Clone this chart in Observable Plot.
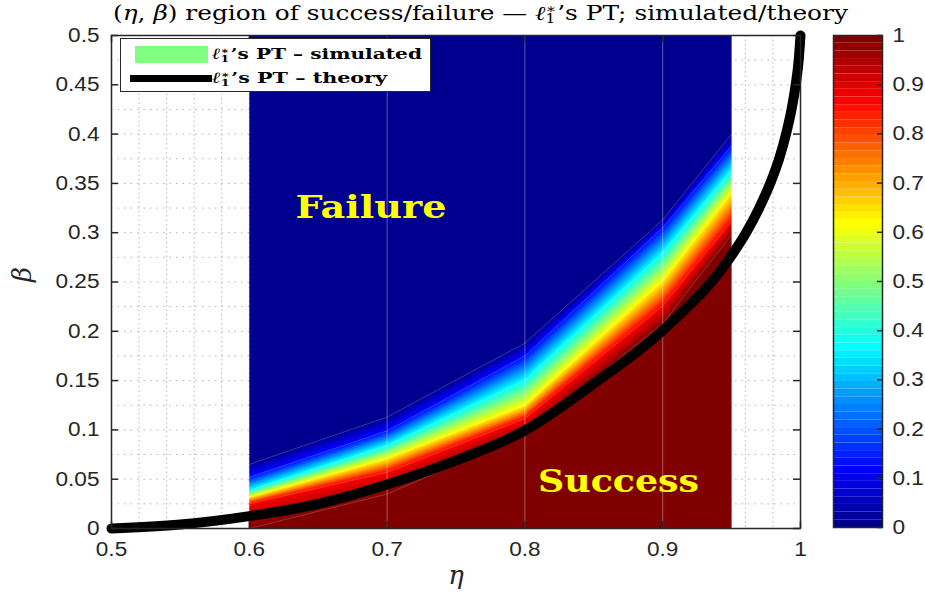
<!DOCTYPE html>
<html>
<head>
<meta charset="utf-8">
<script src="https://cdn.jsdelivr.net/npm/d3@7"></script>
<script src="https://cdn.jsdelivr.net/npm/@observablehq/plot@0.6"></script>
<style>
  html, body { margin: 0; padding: 0; background: #fff; }
  #wrap { position: relative; width: 925px; height: 592px; overflow: hidden; }
  #main, #cbar { position: absolute; top: 0; }
  #main { left: 0; }
  #cbar { left: 820px; }
  #title { position: absolute; left: 113px; top: 0px; font-family: "DejaVu Serif", serif; font-size: 20px; line-height: 26px; white-space: nowrap; color: #000; transform-origin: left center; }
  #legend { position: absolute; left: 120px; top: 38px; width: 311px; height: 54px; background: #fff; border: 1.5px solid #262626; box-sizing: border-box; }
  .lg-sw { position: absolute; }
  .lg-tx { position: absolute; left: 91px; font-family: "DejaVu Serif", serif; font-weight: bold; font-size: 15.5px; line-height: 20px; white-space: nowrap; transform-origin: left center; }
  .ss { display: inline-block; vertical-align: -0.28em; font-size: 0.62em; line-height: 0.85; text-align: left; margin-right: 1px; }
  .ss span { display: block; }
  i { font-style: italic; }
</style>
</head>
<body>
<div id="wrap">
  <div id="main"></div>
  <div id="cbar"></div>
  <div id="title">(<i>η</i>, <i>β</i>) region of success/failure — <i>ℓ</i><span class="ss"><span>∗</span><span>1</span></span>’s PT; simulated/theory</div>
  <div id="legend">
    <div class="lg-sw" style="left:14px; top:7px; width:73px; height:17px; background:#80ff80;"></div>
    <div class="lg-sw" style="left:9px; top:36px; width:82px; height:7px; background:#000;"></div>
    <div class="lg-tx" id="lt1" style="top:5px;"><i>ℓ</i><span class="ss"><span>∗</span><span>1</span></span>’s PT – simulated</div>
    <div class="lg-tx" id="lt2" style="top:29px;"><i>ℓ</i><span class="ss"><span>∗</span><span>1</span></span>’s PT – theory</div>
  </div>
</div>
<script>
// ---- data: simulated success probability band (β where success prob reaches each level) ----
const etaSim = [0.6, 0.7, 0.8, 0.9, 0.95];
const successLevels = [0, 0.125, 0.375, 0.625, 0.875, 1];
const betaAtP000 = [0.065, 0.113, 0.188, 0.313, 0.400];
const betaAtP125 = [0.052, 0.099, 0.175, 0.305, 0.388];
const betaAtP375 = [0.0385, 0.084, 0.150, 0.279, 0.363];
const betaAtP625 = [0.0318, 0.071, 0.125, 0.2515, 0.341];
const betaAtP875 = [0.025, 0.057, 0.1115, 0.226, 0.312];
const betaAtP100 = [0.0, 0.035, 0.095, 0.208, 0.298];

// ---- data: theoretical phase transition curve ----
const etaTheory  = [0.5, 0.55, 0.6, 0.65, 0.7, 0.75, 0.8, 0.85, 0.9, 0.95, 0.9605, 0.970, 0.978, 0.9845, 0.9895, 0.9935, 0.9965, 0.9987, 1.0];
const betaTheory = [0, 0.004, 0.0125, 0.025, 0.0446, 0.069, 0.0995, 0.147, 0.201, 0.277, 0.300, 0.325, 0.350, 0.375, 0.400, 0.425, 0.450, 0.475, 0.5];

// ---- annotations ----
const regionNames = ["Failure", "Success"];
const regionEta = [0.6883, 0.8679];
const regionBeta = [0.3154, 0.0375];

// ---- ticks ----
const xTicks = [0.5, 0.6, 0.7, 0.8, 0.9, 1];
const yTicks = [0, 0.05, 0.1, 0.15, 0.2, 0.25, 0.3, 0.35, 0.4, 0.45, 0.5];
const cbTicks = [0, 0.1, 0.2, 0.3, 0.4, 0.5, 0.6, 0.7, 0.8, 0.9, 1];

// ---- jet colormap stops ----
const jetStops = [0, 0.111, 0.365, 0.619, 0.873, 1];
const jetColors = ["#00008f", "#0000ff", "#00ffff", "#ffff00", "#ff0000", "#800000"];

const levelBetas = [betaAtP000, betaAtP125, betaAtP375, betaAtP625, betaAtP875, betaAtP100];

function successProb(eta, beta) {
  let i = d3.bisectRight(etaSim, eta) - 1;
  i = Math.max(0, Math.min(etaSim.length - 2, i));
  const t = (eta - etaSim[i]) / (etaSim[i + 1] - etaSim[i]);
  const b = levelBetas.map(a => a[i] + t * (a[i + 1] - a[i]));
  if (beta >= b[0]) return successLevels[0];
  for (let k = 0; k < b.length - 1; k++) {
    if (beta >= b[k + 1]) {
      const u = (b[k] - beta) / ((b[k] - b[k + 1]) || 1e-9);
      return successLevels[k] + u * (successLevels[k + 1] - successLevels[k]);
    }
  }
  return successLevels[successLevels.length - 1];
}

const fmt = d => String(+d.toFixed(3));
const colorScale = {type: "linear", domain: jetStops, range: jetColors, interpolate: "rgb", clamp: true};

const W = 820, H = 592, mL = 111, mR = 20, mT = 35, mB = 64;
const iW = W - mL - mR, iH = H - mT - mB;
const axisColor = "#262626";

const gridEta = d3.range(0.5, 1.0001, 0.02);
const gridBeta = d3.range(0, 0.5001, 0.025);
const theory = etaTheory.map((e, j) => ({eta: e, beta: betaTheory[j]}));
const levelLines = levelBetas.map(arr => etaSim.map((e, j) => ({eta: e, beta: arr[j]})));
const labels = regionNames.map((n, j) => ({name: n, eta: regionEta[j], beta: regionBeta[j]}));

const main = Plot.plot({
  width: W, height: H,
  marginLeft: mL, marginRight: mR, marginTop: mT, marginBottom: mB,
  style: {fontFamily: "'Liberation Sans', Arial, sans-serif", fontSize: "20px", color: axisColor, overflow: "visible", background: "transparent"},
  x: {domain: [0.5, 1]},
  y: {domain: [0, 0.5]},
  color: colorScale,
  marks: [
    Plot.ruleX(gridEta, {stroke: "#b5b5b5", strokeDasharray: "1.5,3", strokeWidth: 1}),
    Plot.ruleY(gridBeta, {stroke: "#b5b5b5", strokeDasharray: "1.5,5", strokeWidth: 1}),
    Plot.raster({x1: d3.min(etaSim), x2: d3.max(etaSim), y1: 0, y2: 0.5, fill: successProb, pixelSize: 1}),
    Plot.ruleX(etaSim.slice(1, -1), {stroke: "white", strokeOpacity: 0.35, strokeWidth: 1}),
    ...levelLines.map(ll => Plot.line(ll, {x: "eta", y: "beta", stroke: "white", strokeOpacity: 0.3, strokeWidth: 0.7})),
    Plot.line(theory, {x: "eta", y: "beta", stroke: "black", strokeWidth: 10, curve: "monotone-x"}),
    Plot.text(labels, {x: "eta", y: "beta", text: "name", fill: "#ffff00", fontFamily: "'DejaVu Serif', serif", fontWeight: "bold", fontSize: 32, textAnchor: "middle", lineAnchor: "bottom"}),
    Plot.frame({stroke: axisColor, strokeWidth: 1.5}),
    Plot.tickX(xTicks, {x: d => d, stroke: axisColor, strokeWidth: 1.5, insetTop: iH - 7}),
    Plot.tickX(xTicks, {x: d => d, stroke: axisColor, strokeWidth: 1.5, insetBottom: iH - 7}),
    Plot.tickY(yTicks, {y: d => d, stroke: axisColor, strokeWidth: 1.5, insetRight: iW - 7}),
    Plot.tickY(yTicks, {y: d => d, stroke: axisColor, strokeWidth: 1.5, insetLeft: iW - 7}),
    Plot.axisX({ticks: xTicks, tickSize: 0, tickPadding: 13, tickFormat: fmt, label: null, fontSize: 20}),
    Plot.axisY({ticks: yTicks, tickSize: 0, tickPadding: 12, tickFormat: fmt, label: null, fontSize: 20}),
    Plot.text(["η"], {frameAnchor: "bottom", dy: 55, fontFamily: "'DejaVu Serif', serif", fontStyle: "italic", fontSize: 26, fill: "#262626"}),
    Plot.text(["β"], {frameAnchor: "left", dx: -89, rotate: -90, fontFamily: "'DejaVu Serif', serif", fontStyle: "italic", fontSize: 26, fill: "#262626"})
  ]
});
document.getElementById("main").appendChild(main);

const cbIdx = d3.range(64);
const cbW = 105, cbL = 13, cbR = 43;
const cbar = Plot.plot({
  width: cbW, height: H,
  marginLeft: cbL, marginRight: cbR, marginTop: mT, marginBottom: 65,
  style: {fontFamily: "'Liberation Sans', Arial, sans-serif", fontSize: "20px", color: axisColor, overflow: "visible", background: "transparent"},
  x: {domain: [0, 1], axis: null},
  y: {domain: [0, 1]},
  color: colorScale,
  marks: [
    Plot.rect(cbIdx, {x1: 0, x2: 1, y1: i => i / 64, y2: i => (i + 1) / 64, fill: i => i / 63}),
    Plot.frame({stroke: axisColor, strokeWidth: 1.5}),
    Plot.tickY(cbTicks, {y: d => d, stroke: axisColor, strokeWidth: 1.5, insetLeft: (cbW - cbL - cbR) - 5}),
    Plot.axisY({anchor: "right", ticks: cbTicks, tickSize: 0, tickPadding: 10, tickFormat: fmt, label: null, fontSize: 20})
  ]
});
document.getElementById("cbar").appendChild(cbar);

// widen tick labels slightly (reference font renders wider)
for (const svg of [main, cbar]) {
  svg.querySelectorAll('g[aria-label$="tick label"] text').forEach(t => {
    const L = t.getComputedTextLength();
    t.setAttribute("textLength", (L * 1.13).toFixed(1));
    t.setAttribute("lengthAdjust", "spacingAndGlyphs");
  });
}
// region labels widths matching reference
main.querySelectorAll('g[aria-label="text"] text').forEach(t => {
  const target = t.textContent === "Failure" ? 151 : t.textContent === "Success" ? 161 : null;
  if (target) { t.setAttribute("textLength", target); t.setAttribute("lengthAdjust", "spacingAndGlyphs"); }
});

// fit title width to reference extent
const title = document.getElementById("title");
const tw = title.getBoundingClientRect().width;
title.style.transform = `scaleX(${735 / tw})`;
for (const [id, target] of [["lt1", 210], ["lt2", 175]]) {
  const el = document.getElementById(id);
  const w = el.getBoundingClientRect().width;
  el.style.transform = `scaleX(${target / w})`;
}
</script>
</body>
</html>
